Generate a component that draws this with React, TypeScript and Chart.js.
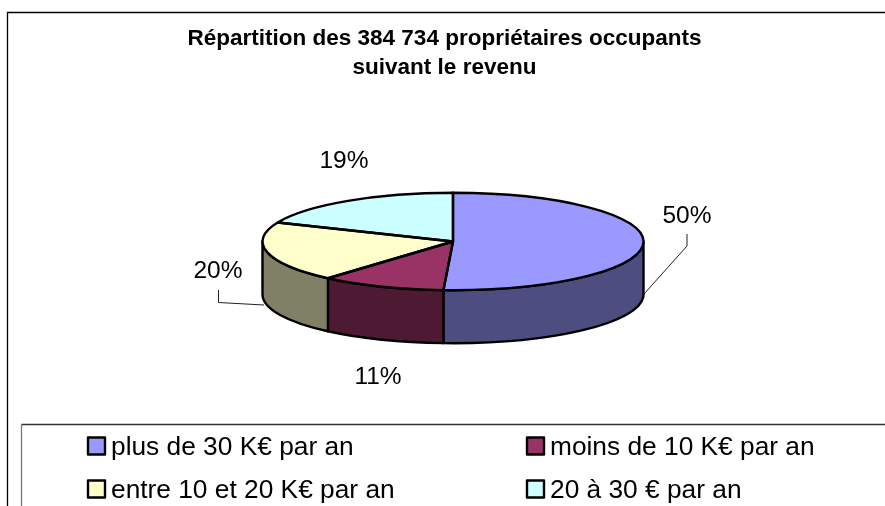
import React, { useEffect, useRef } from "react";
import { Chart, registerables } from "chart.js";

Chart.register(...registerables);

const titleLines = ["Répartition des 384 734 propriétaires occupants", "suivant le revenu"];
const categories = ["plus de 30 K€ par an", "moins de 10 K€ par an", "entre 10 et 20 K€ par an", "20 à 30 € par an"];
const shares = [50.8, 10.6, 20, 18.6];
const shareLabels = ["50%", "11%", "20%", "19%"];
const topColors = ["#9999FF", "#993366", "#FFFFCC", "#CCFFFF"];
const wallColors = ["#4D4D80", "#4D1933", "#808066", "#668080"];

const FONT = '"Liberation Sans", Arial, sans-serif';
const CX = 453;
const CY = 241.5;
const RX = 190.5;
const RY = 48.7;
const DEPTH = 53;

const labelPos = [
  { x: 687, y: 216 },
  { x: 378, y: 377 },
  { x: 218, y: 271 },
  { x: 344, y: 161 },
];
const leaders = [
  [[644, 294], [687, 246], [687, 234]],
  [[264, 305], [218.5, 302.5], [218.5, 290]],
];
const legendPos = [
  { x: 88, y: 446 },
  { x: 527, y: 446 },
  { x: 88, y: 489 },
  { x: 527, y: 489 },
];

function applyPie(ctx: CanvasRenderingContext2D, cx: number, cy: number, r: number) {
  ctx.translate(CX, CY);
  ctx.scale(RX / r, RY / r);
  ctx.translate(-cx, -cy);
}

const pie3d = {
  id: "pie3d",
  beforeDraw(chart: any) {
    const ctx = chart.ctx as CanvasRenderingContext2D;
    ctx.save();
    ctx.strokeStyle = "#000";
    ctx.lineWidth = 1.3;
    ctx.beginPath();
    ctx.moveTo(7.5, 506);
    ctx.lineTo(7.5, 12.5);
    ctx.lineTo(885, 12.5);
    ctx.stroke();
    ctx.strokeStyle = "#333";
    ctx.beginPath();
    ctx.moveTo(885, 424.5);
    ctx.lineTo(21.5, 424.5);
    ctx.stroke();
    ctx.strokeStyle = "#777";
    ctx.beginPath();
    ctx.moveTo(21.5, 424.5);
    ctx.lineTo(21.5, 506);
    ctx.stroke();
    ctx.restore();
  },
  beforeDatasetsDraw(chart: any) {
    const ctx = chart.ctx as CanvasRenderingContext2D;
    const arcs = chart.getDatasetMeta(0).data;
    ctx.save();
    ctx.lineWidth = 2.4;
    ctx.strokeStyle = "#000";
    ctx.lineJoin = "round";
    arcs.forEach((arc: any, i: number) => {
      for (const [lo, hi] of [[0, Math.PI], [2 * Math.PI, 3 * Math.PI]]) {
        const a = Math.max(arc.startAngle, lo);
        const b = Math.min(arc.endAngle, hi);
        if (b <= a) continue;
        ctx.beginPath();
        ctx.ellipse(CX, CY, RX, RY, 0, a, b);
        ctx.ellipse(CX, CY + DEPTH, RX, RY, 0, b, a, true);
        ctx.closePath();
        ctx.fillStyle = wallColors[i];
        ctx.fill();
        ctx.stroke();
      }
    });
    ctx.restore();
    ctx.save();
    const first = arcs[0];
    applyPie(ctx, first.x, first.y, first.outerRadius);
  },
  afterDatasetsDraw(chart: any) {
    const ctx = chart.ctx as CanvasRenderingContext2D;
    ctx.restore();
    const arcs = chart.getDatasetMeta(0).data;
    ctx.save();
    ctx.lineWidth = 2.4;
    ctx.strokeStyle = "#000";
    ctx.lineJoin = "round";
    arcs.forEach((arc: any) => {
      ctx.beginPath();
      ctx.moveTo(CX, CY);
      ctx.ellipse(CX, CY, RX, RY, 0, arc.startAngle, arc.endAngle);
      ctx.closePath();
      ctx.stroke();
    });

    ctx.lineWidth = 1;
    ctx.strokeStyle = "#222";
    leaders.forEach((pts) => {
      ctx.beginPath();
      pts.forEach(([x, y], k) => (k ? ctx.lineTo(x, y) : ctx.moveTo(x, y)));
      ctx.stroke();
    });

    ctx.fillStyle = "#000";
    ctx.strokeStyle = "#000";
    ctx.font = `24.5px ${FONT}`;
    ctx.textAlign = "center";
    ctx.textBaseline = "middle";
    shareLabels.forEach((t, i) => ctx.fillText(t, labelPos[i].x, labelPos[i].y));

    ctx.font = `26.3px ${FONT}`;
    ctx.textAlign = "left";
    categories.forEach((c, i) => {
      const p = legendPos[i];
      ctx.fillStyle = topColors[i];
      ctx.fillRect(p.x, p.y - 8.5, 17, 17);
      ctx.lineWidth = 2.4;
      ctx.strokeRect(p.x, p.y - 8.5, 17, 17);
      ctx.fillStyle = "#000";
      ctx.fillText(c, p.x + 23, p.y + 2);
    });
    ctx.restore();
  },
};

export default function App() {
  const ref = useRef<HTMLCanvasElement>(null);
  useEffect(() => {
    document.body.style.margin = "0";
    const chart = new Chart(ref.current!, {
      type: "pie",
      data: {
        labels: categories,
        datasets: [
          {
            data: shares,
            backgroundColor: topColors,
            borderWidth: 0,
            clip: false,
          } as any,
        ],
      },
      options: {
        responsive: false,
        animation: false,
        layout: { padding: { left: 4, top: 24 } },
        plugins: {
          legend: { display: false },
          tooltip: { enabled: false },
          title: {
            display: true,
            text: titleLines,
            color: "#000",
            font: { family: FONT, size: 22.5, weight: "bold", lineHeight: 1.29 },
            padding: 0,
          },
        },
      },
      plugins: [pie3d],
    });
    return () => chart.destroy();
  }, []);
  return <canvas ref={ref} width={885} height={506} style={{ display: "block" }} />;
}
